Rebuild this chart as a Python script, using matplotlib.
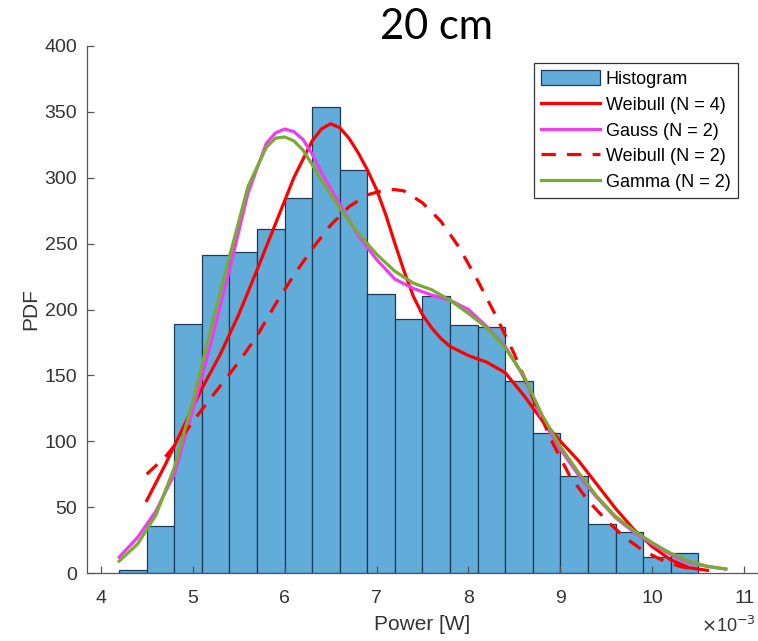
import matplotlib
matplotlib.use('Agg')
import matplotlib.pyplot as plt
import numpy as np

# histogram (x in units of 1e-3 W)
bin_edges = [4.2, 4.5, 4.8, 5.1, 5.4, 5.7, 6.0, 6.3, 6.6, 6.9, 7.2, 7.5,
             7.8, 8.1, 8.4, 8.7, 9.0, 9.3, 9.6, 9.9, 10.2, 10.5]
bin_heights = [2, 36, 189, 241, 244, 261, 285, 354, 306, 212, 193, 210,
               188, 187, 146, 106, 74, 37, 31, 12, 15]

# Weibull (N = 4), solid red
wb4_x = [4.5, 4.7, 4.9, 5.1, 5.3, 5.5, 5.7, 5.9, 6.1, 6.3, 6.4, 6.5, 6.6,
         6.7, 6.8, 6.9, 7.0, 7.1, 7.2, 7.3, 7.4, 7.5, 7.6, 7.7, 7.8, 8.0,
         8.2, 8.4, 8.6, 8.8, 9.0, 9.2, 9.4, 9.6, 9.8, 10.0, 10.2, 10.4, 10.6]
wb4_y = [55, 82, 111, 140, 166, 196, 230, 265, 300, 328, 337, 341, 338,
         330, 319, 306, 291, 272, 250, 229, 210, 196, 186, 178, 172, 165,
         160, 152, 135, 116, 100, 85, 67, 49, 33, 20, 10, 4, 2]

# Gauss (N = 2), magenta
gs_x = [4.2, 4.4, 4.6, 4.8, 5.0, 5.2, 5.4, 5.6, 5.8, 5.9, 6.0, 6.1, 6.2,
        6.3, 6.4, 6.6, 6.8, 7.0, 7.2, 7.4, 7.6, 7.8, 8.0, 8.2, 8.4, 8.6,
        8.8, 9.0, 9.2, 9.4, 9.6, 9.8, 10.0, 10.2, 10.4, 10.6, 10.8]
gs_y = [12, 27, 47, 75, 123, 175, 230, 288, 326, 334, 337, 335, 329,
        318, 304, 280, 256, 238, 223, 216, 211, 207, 200, 187, 172, 149,
        117, 94, 74, 57, 42, 31, 22, 14, 8, 5, 3]

# Weibull (N = 2), dashed red
wb2_x = [4.5, 4.7, 4.9, 5.1, 5.3, 5.5, 5.7, 5.9, 6.1, 6.3, 6.5, 6.7, 6.9,
         7.1, 7.2, 7.3, 7.5, 7.7, 7.9, 8.1, 8.3, 8.5, 8.7, 8.9, 9.1, 9.3,
         9.5, 9.7, 9.9, 10.1, 10.3, 10.5]
wb2_y = [75, 88, 105, 124, 142, 160, 180, 204, 226, 246, 264, 278, 287,
         291, 291, 290, 281, 267, 247, 222, 195, 166, 133, 101, 74, 55,
         40, 27, 17, 10, 5, 2]

# Gamma (N = 2), green
gm_x = [4.2, 4.4, 4.6, 4.8, 5.0, 5.2, 5.4, 5.6, 5.8, 5.9, 6.0, 6.1, 6.2,
        6.3, 6.4, 6.6, 6.8, 7.0, 7.2, 7.4, 7.6, 7.8, 8.0, 8.2, 8.4, 8.6,
        8.8, 9.0, 9.2, 9.4, 9.6, 9.8, 10.0, 10.2, 10.4, 10.6, 10.8]
gm_y = [9, 22, 44, 80, 130, 186, 240, 293, 323, 330, 331, 328, 321,
        310, 298, 277, 258, 242, 229, 220, 215, 207, 197, 186, 171, 150,
        120, 96, 76, 58, 43, 32, 23, 15, 9, 5, 3]

plt.rcParams['font.family'] = ['Liberation Sans', 'DejaVu Sans']

fig = plt.figure(figsize=(7.58, 6.41), dpi=100)
ax = fig.add_axes([87 / 758, 68 / 641, 671 / 758, 527 / 641])

edges = np.array(bin_edges)
bars = ax.bar(edges[:-1], bin_heights, width=np.diff(edges), align='edge',
              color='#62acda', edgecolor='#1e3a56', linewidth=0.9,
              label='Histogram')

l1, = ax.plot(wb4_x, wb4_y, color='#ff0000', lw=2.3, label='Weibull (N = 4)')
l2, = ax.plot(gs_x, gs_y, color='#f03cf0', lw=2.3, label='Gauss (N = 2)')
l3, = ax.plot(wb2_x, wb2_y, color='#ff0000', lw=2.3, ls=(0, (4.5, 3.5)),
              label='Weibull (N = 2)')
l4, = ax.plot(gm_x, gm_y, color='#77ac30', lw=2.3, label='Gamma (N = 2)')

ax.set_xlim(3.85, 11.15)
ax.set_ylim(0, 400)
ax.set_xticks([4, 5, 6, 7, 8, 9, 10, 11])
ax.set_yticks(range(0, 401, 50))

for s in ['top', 'right']:
    ax.spines[s].set_visible(False)
for s in ['left', 'bottom']:
    ax.spines[s].set_color('#555555')
    ax.spines[s].set_linewidth(0.9)
ax.tick_params(direction='in', length=5, width=0.9, color='#555555',
               labelcolor='#333333', labelsize=14)
ax.tick_params(axis='x', pad=12)
ax.tick_params(axis='y', pad=7)

ax.set_xlabel('Power [W]', fontsize=15, color='#333333', labelpad=6)
ax.set_ylabel('PDF', fontsize=15, color='#333333', labelpad=3)
ax.text(0.997, -0.1, r'$\times$10$^{-3}$', transform=ax.transAxes,
        fontsize=13, color='#333333', ha='right', va='center')

leg = ax.legend([bars, l1, l2, l3, l4],
                ['Histogram', 'Weibull (N = 4)', 'Gauss (N = 2)',
                 'Weibull (N = 2)', 'Gamma (N = 2)'],
                loc='upper right', bbox_to_anchor=(0.970, 0.968),
                borderaxespad=0, fancybox=False, fontsize=13,
                handlelength=3.3, handleheight=0.9, labelspacing=0.45,
                handletextpad=0.3, borderpad=0.4, framealpha=1)
leg.get_frame().set_edgecolor('#333333')
leg.get_frame().set_linewidth(0.9)

fig.text(437 / 758, 1 - 27 / 641, '20 cm', fontsize=30, family='Lato',
         ha='center', va='center', color='black')

fig.savefig('out.png', dpi=100)
